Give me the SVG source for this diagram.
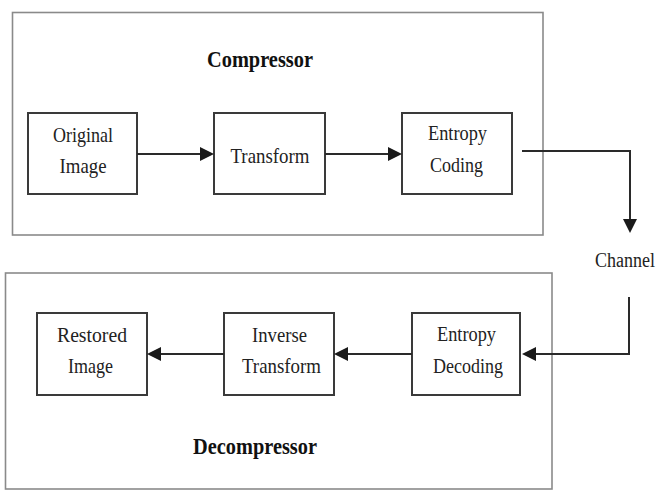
<svg xmlns="http://www.w3.org/2000/svg" width="663" height="494" viewBox="0 0 663 494">
<style>
.bg{fill:#ffffff}
.outer{fill:none;stroke:#8a8a8a;stroke-width:1.6}
.box{fill:#ffffff;stroke:#3a3a3a;stroke-width:2}
.lbl{font-family:"Liberation Serif","Times New Roman",serif;font-size:21px;fill:#222222;text-anchor:middle}
.ttl{font-family:"Liberation Serif","Times New Roman",serif;font-size:23px;font-weight:bold;fill:#111111;text-anchor:middle}
.con{fill:none;stroke:#2a2a2a;stroke-width:2}
</style>
<defs>
<marker id="ah" markerUnits="userSpaceOnUse" markerWidth="15" markerHeight="15" refX="12" refY="7.5" orient="auto">
<path d="M0,0.5 L14,7.5 L0,14.5 Z" fill="#1a1a1a"/>
</marker>
</defs>
<rect class="bg" x="0" y="0" width="663" height="494"/>
<g id="compressor">
<rect class="outer" x="12.5" y="12.5" width="530.5" height="222.5"/>
<text class="ttl" x="260" y="67" textLength="106" lengthAdjust="spacingAndGlyphs">Compressor</text>
</g>
<g id="decompressor">
<rect class="outer" x="5.5" y="273" width="546.5" height="216"/>
<text class="ttl" x="255" y="454" textLength="124" lengthAdjust="spacingAndGlyphs">Decompressor</text>
</g>
<g id="original-image">
<rect class="box" x="28" y="113" width="109" height="81"/>
<text class="lbl" x="83" y="142" textLength="60" lengthAdjust="spacingAndGlyphs">Original</text>
<text class="lbl" x="83" y="173" textLength="47" lengthAdjust="spacingAndGlyphs">Image</text>
</g>
<g id="transform">
<rect class="box" x="214" y="113" width="111" height="81"/>
<text class="lbl" x="270" y="163" textLength="79" lengthAdjust="spacingAndGlyphs">Transform</text>
</g>
<g id="entropy-coding">
<rect class="box" x="402" y="113" width="110" height="81"/>
<text class="lbl" x="457.5" y="140" textLength="59" lengthAdjust="spacingAndGlyphs">Entropy</text>
<text class="lbl" x="456.5" y="172" textLength="53" lengthAdjust="spacingAndGlyphs">Coding</text>
</g>
<g id="channel">
<text class="lbl" x="625" y="267" style="font-size:20px" textLength="60" lengthAdjust="spacingAndGlyphs">Channel</text>
</g>
<g id="restored-image">
<rect class="box" x="37" y="313" width="110" height="82"/>
<text class="lbl" x="92" y="342" textLength="70" lengthAdjust="spacingAndGlyphs">Restored</text>
<text class="lbl" x="90.5" y="373" textLength="45" lengthAdjust="spacingAndGlyphs">Image</text>
</g>
<g id="inverse-transform">
<rect class="box" x="224" y="313" width="110" height="82"/>
<text class="lbl" x="279.5" y="342" textLength="55" lengthAdjust="spacingAndGlyphs">Inverse</text>
<text class="lbl" x="281.5" y="373" textLength="79" lengthAdjust="spacingAndGlyphs">Transform</text>
</g>
<g id="entropy-decoding">
<rect class="box" x="412" y="313" width="108" height="82"/>
<text class="lbl" x="466.5" y="341" textLength="59" lengthAdjust="spacingAndGlyphs">Entropy</text>
<text class="lbl" x="468" y="373" textLength="70" lengthAdjust="spacingAndGlyphs">Decoding</text>
</g>
<g id="connectors">
<path class="con" d="M137,154 H212" marker-end="url(#ah)"/>
<path class="con" d="M325,154 H400" marker-end="url(#ah)"/>
<path class="con" d="M522,151 H630 V231" marker-end="url(#ah)"/>
<path class="con" d="M629,297 V354 H524" marker-end="url(#ah)"/>
<path class="con" d="M412,354 H336" marker-end="url(#ah)"/>
<path class="con" d="M224,354 H149" marker-end="url(#ah)"/>
</g>
</svg>
